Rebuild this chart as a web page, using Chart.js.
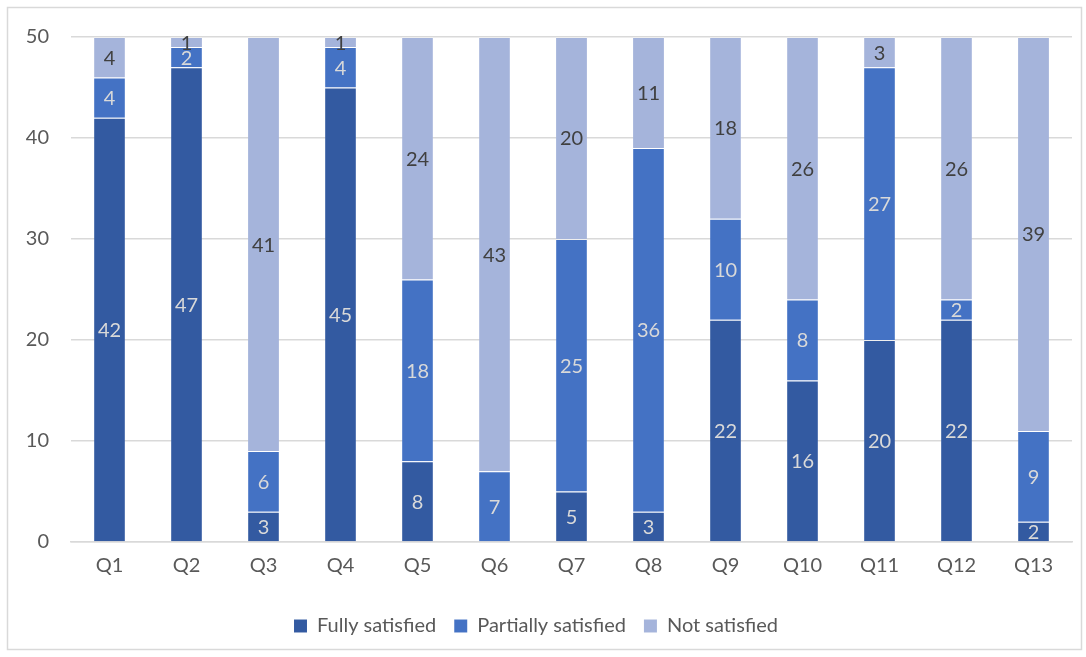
<!DOCTYPE html>
<html>
<head>
<meta charset="utf-8">
<script src="https://cdn.jsdelivr.net/npm/chart.js@4/dist/chart.umd.min.js"></script>
<style>
  html, body { margin: 0; padding: 0; background: #fff; }
  #wrap { position: absolute; left: 0; top: 0; width: 1086px; height: 657px; }
</style>
</head>
<body>
<div id="wrap"><canvas id="chart" width="1086" height="657"></canvas></div>
<script>
// Survey results per question (count of respondents, 50 each)
const categories = ['Q1','Q2','Q3','Q4','Q5','Q6','Q7','Q8','Q9','Q10','Q11','Q12','Q13'];
const fullySatisfied     = [42, 47, 3, 45, 8, 0, 5, 3, 22, 16, 20, 22, 2];
const partiallySatisfied = [4, 2, 6, 4, 18, 7, 25, 36, 10, 8, 27, 2, 9];
const notSatisfied       = [4, 1, 41, 1, 24, 43, 20, 11, 18, 26, 3, 26, 39];
const yTicks = [0, 10, 20, 30, 40, 50];

const FONT = 'Lato, "Liberation Sans", sans-serif';

// Outer frame around the whole chart
const framePlugin = {
  id: 'frame',
  beforeDraw(chart) {
    const c = chart.ctx;
    c.save();
    c.fillStyle = '#ffffff';
    c.fillRect(0, 0, chart.width, chart.height);
    c.strokeStyle = '#D9D9D9';
    c.lineWidth = 1.5;
    c.strokeRect(7.5, 7.5, 1074, 642);
    c.restore();
  }
};

// Value labels centred in each stacked segment
const valueLabels = {
  id: 'valueLabels',
  afterDatasetsDraw(chart) {
    const c = chart.ctx;
    c.save();
    c.font = '20px ' + FONT;
    c.textAlign = 'center';
    c.textBaseline = 'middle';
    chart.data.datasets.forEach((ds, i) => {
      const meta = chart.getDatasetMeta(i);
      meta.data.forEach((bar, j) => {
        const v = ds.data[j];
        if (!v) return;
        const mid = (bar.y + bar.base) / 2;
        c.fillStyle = ds.labelColor;
        c.fillText(String(v), bar.x, mid + 1);
      });
    });
    c.restore();
  }
};

const segBorder = 'rgba(255,255,255,0.2)';

new Chart(document.getElementById('chart'), {
  type: 'bar',
  data: {
    labels: categories,
    datasets: [
      { label: 'Fully satisfied', data: fullySatisfied, backgroundColor: '#335AA1', labelColor: '#D9D9D9',
        borderColor: segBorder, borderWidth: { top: 1 }, borderSkipped: false },
      { label: 'Partially satisfied', data: partiallySatisfied, backgroundColor: '#4472C4', labelColor: '#D9D9D9',
        borderColor: segBorder, borderWidth: { top: 1 }, borderSkipped: false },
      { label: 'Not satisfied', data: notSatisfied, backgroundColor: '#A5B4DB', labelColor: '#404040',
        borderColor: segBorder, borderWidth: { top: 1 }, borderSkipped: false }
    ]
  },
  options: {
    responsive: false,
    animation: false,
    devicePixelRatio: 1,
    layout: { padding: { left: 0, right: 14, top: 37, bottom: 11 } },
    datasets: { bar: { categoryPercentage: 1.0, barPercentage: 0.4 } },
    scales: {
      x: {
        stacked: true,
        grid: { display: false, drawTicks: false },
        border: { display: true, color: '#D9D9D9', width: 1.5 },
        ticks: { color: '#595959', font: { family: FONT, size: 20 }, padding: 12 },
        afterFit(scale) { scale.height = 56; }
      },
      y: {
        stacked: true,
        min: 0, max: 50,
        afterBuildTicks(scale) { scale.ticks = yTicks.map(v => ({ value: v })); },
        grid: { color: '#D9D9D9', lineWidth: 1.5, drawTicks: false },
        border: { display: false },
        ticks: { color: '#595959', font: { family: FONT, size: 20 }, padding: 22 },
        afterFit(scale) { scale.width = 71; }
      }
    },
    plugins: {
      legend: {
        position: 'bottom',
        labels: {
          color: '#595959',
          font: { family: FONT, size: 20 },
          boxWidth: 13, boxHeight: 13,
          padding: 18
        }
      },
      tooltip: { enabled: false }
    }
  },
  plugins: [framePlugin, valueLabels]
});
</script>
</body>
</html>
